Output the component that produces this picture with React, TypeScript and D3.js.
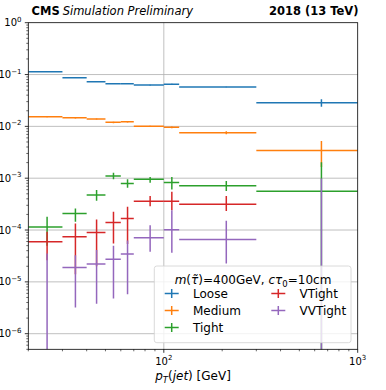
import React from "react";
import * as d3 from "d3";

const binEdges = [20, 30, 40, 50, 60, 70, 100, 120, 300, 1000];

const wpNames = ["Loose", "Medium", "Tight", "VTight", "VVTight"];
const wpColors = ["#1f77b4", "#ff7f0e", "#2ca02c", "#d62728", "#9467bd"];

const looseVal = [0.1133, 0.0867, 0.0726, 0.0664, 0.0664, 0.0627, 0.0647, 0.0574, 0.0286];
const looseErrDn = [0.001, 0.001, 0.001, 0.001, 0.001, 0.001, 0.0015, 0.0008, 0.0046];
const looseErrUp = [0.001, 0.001, 0.001, 0.001, 0.001, 0.001, 0.0015, 0.0008, 0.0046];

const mediumVal = [0.01532, 0.01466, 0.01384, 0.01194, 0.01227, 0.01, 0.00957, 0.00752, 0.00344];
const mediumErrDn = [0.0004, 0.0004, 0.0003, 0.0004, 0.0004, 0.0003, 0.0004, 0.0005, 0.0018];
const mediumErrUp = [0.0004, 0.0004, 0.0003, 0.0004, 0.0004, 0.0003, 0.0004, 0.0005, 0.0018];

const tightVal = [1.15e-4, 2.09e-4, 4.72e-4, 1.1e-3, 7.94e-4, 9.5e-4, 8.3e-4, 7.13e-4, 5.6e-4];
const tightErrDn = [6.5e-5, 6.5e-5, 1.06e-4, 1.5e-4, 1.41e-4, 1.35e-4, 2.22e-4, 1.49e-4, 5.6e-4];
const tightErrUp = [6.5e-5, 5.2e-5, 1.17e-4, 1.7e-4, 1.56e-4, 1.1e-4, 2.3e-4, 1.67e-4, 1.46e-3];

const vtightVal = [5.92e-5, 7.4e-5, 9.0e-5, 1.4e-4, 1.67e-4, 3.61e-4, 3.61e-4, 3.16e-4, 0];
const vtightErrDn = [3.3e-5, 6.0e-5, 7.0e-5, 8.5e-5, 1.13e-4, 7.2e-5, 1.2e-4, 8.4e-5, 0];
const vtightErrUp = [3.3e-5, 6.0e-5, 7.0e-5, 8.5e-5, 1.13e-4, 9.0e-5, 1.85e-4, 1.4e-4, 0];

const vvtightVal = [0, 1.9e-5, 2.2e-5, 2.74e-5, 3.43e-5, 7.06e-5, 1.01e-4, 6.58e-5, 0];
const vvtightErrDn = [0, 1.58e-5, 1.82e-5, 2.26e-5, 2.85e-5, 3.26e-5, 6.47e-5, 4.32e-5, 0];
const vvtightErrUp = [3.53e-5, 1.37e-5, 1.9e-5, 2.26e-5, 2.87e-5, 5.34e-5, 1.41e-4, 8.52e-5, 9.9e-4];

const seriesVals = [looseVal, mediumVal, tightVal, vtightVal, vvtightVal];
const seriesDn = [looseErrDn, mediumErrDn, tightErrDn, vtightErrDn, vvtightErrDn];
const seriesUp = [looseErrUp, mediumErrUp, tightErrUp, vtightErrUp, vvtightErrUp];

const yMajorExps = [0, -1, -2, -3, -4, -5, -6];
const xMajorTicks = [100, 1000];
const xMajorLabels = ["2", "3"];

const W = 386;
const H = 390;
const L = 28.3, R = 357.7, T = 22.7, B = 349.3;
const FONT = "DejaVu Sans, sans-serif";

export default function App() {
  const x = d3.scaleLog().domain([20, 1000]).range([L, R]);
  const y = d3.scaleLog().domain([5e-7, 1]).range([B, T]);

  const yMinor: number[] = [];
  for (let e = -7; e <= -1; e++) {
    for (let k = 2; k <= 9; k++) {
      const v = k * Math.pow(10, e);
      if (v >= 5e-7 && v <= 1) yMinor.push(v);
    }
  }
  const xMinor: number[] = [];
  for (let e = 1; e <= 2; e++) {
    for (let k = 2; k <= 9; k++) {
      const v = k * Math.pow(10, e);
      if (v >= 20 && v <= 1000) xMinor.push(v);
    }
  }

  const yPos = (v: number) => (v <= 0 ? B + 20 : y(v));

  const legendCols = [
    { x: 171.7, tx: 193, items: [0, 1, 2] },
    { x: 278.3, tx: 299.5, items: [3, 4] },
  ];
  const legendRows = [297.5, 314.5, 331.5];

  return (
    <svg width={W} height={H} style={{ position: "absolute", left: 0, top: 0, background: "#fff" }} fontFamily={FONT}>
      <defs>
        <clipPath id="plotclip">
          <rect x={L} y={T} width={R - L} height={B - T} />
        </clipPath>
      </defs>
      <rect x={0} y={0} width={W} height={H} fill="#fff" />
      {/* grid */}
      <g stroke="#b0b0b0" strokeWidth={0.8}>
        {yMajorExps.slice(1).map((e) => (
          <line key={"gy" + e} x1={L} x2={R} y1={y(Math.pow(10, e))} y2={y(Math.pow(10, e))} />
        ))}
        <line x1={x(100)} x2={x(100)} y1={T} y2={B} />
      </g>
      {/* data */}
      <g clipPath="url(#plotclip)" strokeWidth={1.5} fill="none">
        {seriesVals.map((vals, si) => (
          <g key={"s" + si} stroke={wpColors[si]}>
            {vals.map((v, i) => {
              const lo = binEdges[i], hi = binEdges[i + 1];
              const c = (lo + hi) / 2;
              const dn = seriesDn[si][i], up = seriesUp[si][i];
              if (v <= 0 && up <= 0) return null;
              return (
                <g key={i}>
                  {v > 0 && <line x1={x(lo)} x2={x(hi)} y1={y(v)} y2={y(v)} />}
                  {(up > 0 || dn > 0) && (
                    <line x1={x(c)} x2={x(c)} y1={yPos(v - dn)} y2={yPos(v + up)} />
                  )}
                </g>
              );
            })}
          </g>
        ))}
      </g>
      {/* spines */}
      <rect x={L} y={T} width={R - L} height={B - T} fill="none" stroke="#000" strokeWidth={0.8} />
      {/* ticks */}
      <g stroke="#000" strokeWidth={0.8}>
        {yMajorExps.map((e) => (
          <line key={"ym" + e} x1={L - 3.5} x2={L} y1={y(Math.pow(10, e))} y2={y(Math.pow(10, e))} />
        ))}
        {yMinor.map((v) => (
          <line key={"yn" + v} x1={L - 2} x2={L} y1={y(v)} y2={y(v)} strokeWidth={0.6} />
        ))}
        {xMajorTicks.map((v) => (
          <line key={"xm" + v} x1={x(v)} x2={x(v)} y1={B} y2={B + 3.5} />
        ))}
        {xMinor.map((v) => (
          <line key={"xn" + v} x1={x(v)} x2={x(v)} y1={B} y2={B + 2} strokeWidth={0.6} />
        ))}
      </g>
      <g fontSize={10} fill="#000">
        {yMajorExps.map((e) => (
          <text key={"yl" + e} x={21.5} y={y(Math.pow(10, e)) + 3.5} textAnchor="end">
            10
            <tspan dy={-4.5} fontSize={7}>{e === 0 ? "0" : "\u2212" + Math.abs(e)}</tspan>
          </text>
        ))}
        {xMajorTicks.map((v, i) => (
          <text key={"xl" + v} x={x(v)} y={364.5} textAnchor="middle">
            10
            <tspan dy={-4.5} fontSize={7}>{xMajorLabels[i]}</tspan>
          </text>
        ))}
      </g>
      {/* x label */}
      <text x={(L + R) / 2} y={380} textAnchor="middle" fontSize={12}>
        <tspan fontStyle="italic">p</tspan>
        <tspan fontStyle="italic" fontSize={8.5} dy={2.5}>T</tspan>
        <tspan dy={-2.5}>(</tspan>
        <tspan fontStyle="italic">jet</tspan>
        <tspan>) [GeV]</tspan>
      </text>
      {/* header */}
      <text x={31.5} y={15} fontSize={11.5}>
        <tspan fontWeight="bold">CMS</tspan>
        <tspan fontStyle="italic" dx={3}>Simulation Preliminary</tspan>
      </text>
      <text x={358.5} y={15} fontSize={11.5} fontWeight="bold" textAnchor="end">
        2018 (13 TeV)
      </text>
      {/* legend */}
      <rect x={154.3} y={266} width={196.7} height={76.7} rx={2.5} fill="#fff" fillOpacity={0.8} stroke="#d0d0d0" strokeWidth={0.8} />
      <text x={253} y={284} fontSize={12} textAnchor="middle">
        <tspan fontStyle="italic">m</tspan>
        <tspan>(</tspan>
        <tspan fontStyle="italic">{"\u03C4\u0303"}</tspan>
        <tspan>{")=400GeV, "}</tspan>
        <tspan fontStyle="italic">{"c\u03C4"}</tspan>
        <tspan fontSize={8.5} dy={2.5}>0</tspan>
        <tspan dy={-2.5}>=10cm</tspan>
      </text>
      {legendCols.map((col, ci) =>
        col.items.map((si, ri) => {
          const ly = legendRows[ri];
          return (
            <g key={"lg" + ci + ri}>
              <g stroke={wpColors[si]} strokeWidth={1.5}>
                <line x1={col.x - 7} x2={col.x + 7} y1={ly - 4} y2={ly - 4} />
                <line x1={col.x} x2={col.x} y1={ly - 8.5} y2={ly + 0.5} />
              </g>
              <text x={col.tx} y={ly} fontSize={12} fill="#000">
                {wpNames[si]}
              </text>
            </g>
          );
        })
      )}
    </svg>
  );
}
